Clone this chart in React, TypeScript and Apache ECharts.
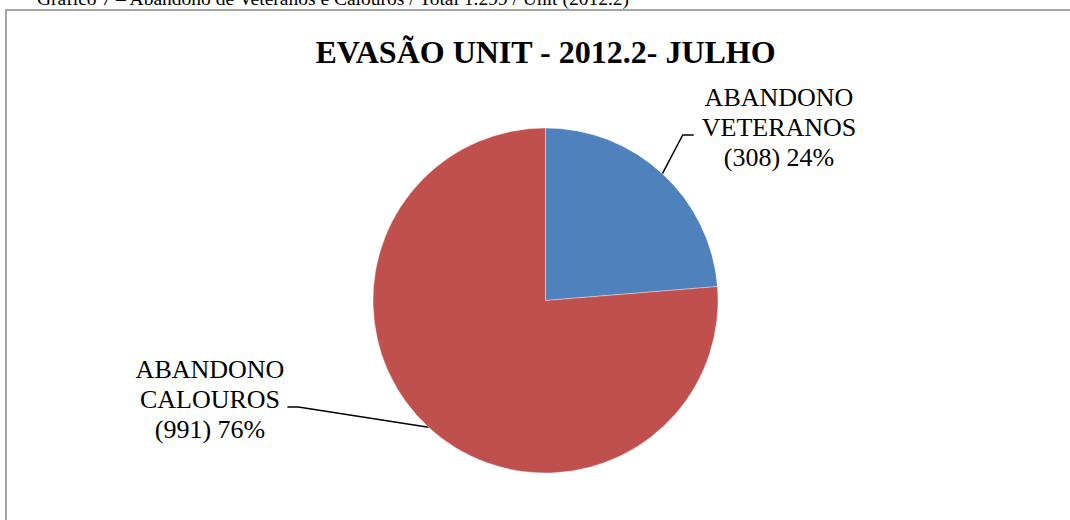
import React, { useEffect, useRef } from "react";
import * as echarts from "echarts";

const caption = "Gráfico 7 – Abandono de Veteranos e Calouros / Total 1.299 / Unit (2012.2)";
const chartTitle = "EVASÃO UNIT - 2012.2- JULHO";
const categories = ["ABANDONO VETERANOS", "ABANDONO CALOUROS"];
const values = [308, 991];
const colors = ["#4F81BD", "#C0504D"];

const SERIF = "'Liberation Serif', 'Times New Roman', serif";

export default function App() {
  const ref = useRef<HTMLDivElement>(null);

  useEffect(() => {
    if (!ref.current) return;
    const chart = echarts.init(ref.current, null, { renderer: "svg" });
    const labelCenters = [
      [779, 127],
      [210, 399],
    ];
    const lineDy = 8;
    const seg = 11;
    const gaps = [8, 3];
    chart.setOption({
      animation: false,
      backgroundColor: "#ffffff",
      graphic: [
        {
          type: "text",
          x: 37,
          y: -1.5,
          style: {
            text: caption,
            font: `19.5px ${SERIF}`,
            fill: "#000",
            align: "left",
            verticalAlign: "middle",
          },
        },
        {
          type: "rect",
          shape: { x: 6, y: 10, width: 1100, height: 600 },
          style: { fill: "none", stroke: "#888888", lineWidth: 1.5 },
        },
        {
          type: "text",
          x: 545.5,
          y: 51.5,
          style: {
            text: chartTitle,
            font: `bold 32px ${SERIF}`,
            fill: "#000",
            align: "center",
            verticalAlign: "middle",
          },
        },
      ],
      series: [
        {
          type: "pie",
          center: [545.5, 300.5],
          radius: 172.5,
          startAngle: 90,
          clockwise: true,
          silent: true,
          data: categories.map((c, i) => ({
            name: c,
            value: values[i],
            itemStyle: { color: colors[i] },
          })),
          itemStyle: { borderColor: "rgba(255,255,255,0.6)", borderWidth: 0.6 },
          label: {
            show: true,
            position: "outside",
            fontFamily: SERIF,
            fontSize: 26,
            lineHeight: 30,
            color: "#000",
            align: "center",
            formatter: (p: any) =>
              p.name.replace(" ", "\n") + "\n(" + p.value + ") " + Math.round(p.percent) + "%",
          },
          labelLine: {
            show: true,
            length: 10,
            length2: seg,
            lineStyle: { color: "#000", width: 1.5 },
          },
          labelLayout: (params: any) => {
            const i = params.dataIndex;
            const [cx, cy] = labelCenters[i];
            const w = params.labelRect.width;
            const anchor = params.labelLinePoints ? params.labelLinePoints[0] : [cx, cy];
            const leftSide = anchor[0] < cx ? true : false;
            const yLine = cy + lineDy;
            let endX: number;
            let midX: number;
            if (leftSide) {
              endX = cx - w / 2 - gaps[i];
              midX = endX - seg;
            } else {
              endX = cx + w / 2 + gaps[i];
              midX = endX + seg;
            }
            return {
              x: cx,
              y: cy,
              align: "center",
              verticalAlign: "middle",
              labelLinePoints: [anchor, [midX, yLine], [endX, yLine]],
            };
          },
        },
      ],
    });
    return () => chart.dispose();
  }, []);

  return (
    <div
      ref={ref}
      style={{ position: "absolute", left: 0, top: 0, width: 1070, height: 520 }}
    />
  );
}
